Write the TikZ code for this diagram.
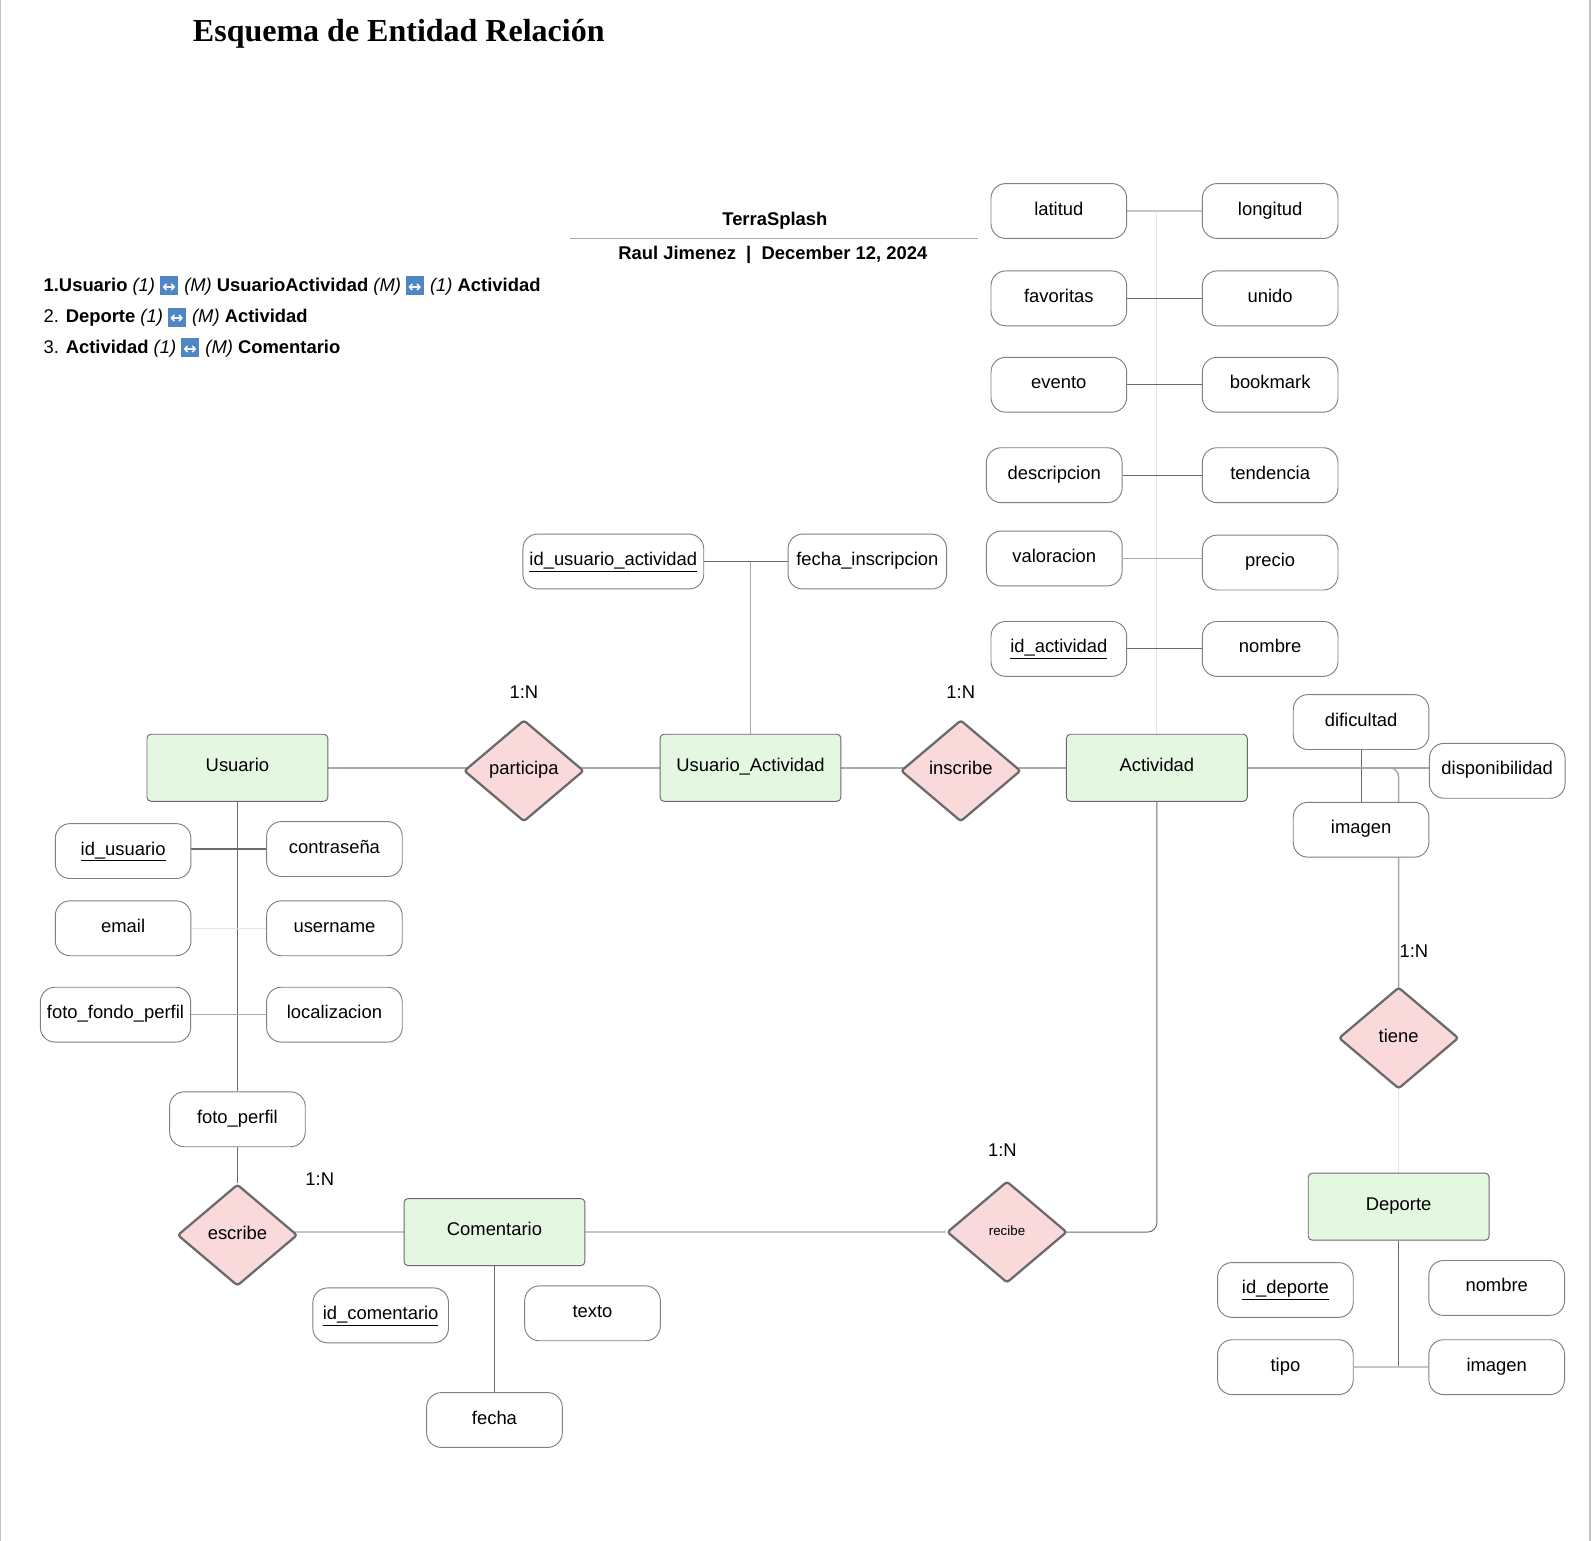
\documentclass[tikz,border=0pt]{standalone}
\usepackage{fontspec}
\setmainfont{Liberation Sans}
\newfontfamily\serifbold{Liberation Serif}
\newfontfamily\dejavu{DejaVu Sans}
\usetikzlibrary{shapes.geometric,backgrounds}
\definecolor{entfill}{HTML}{E3F7E1}
\definecolor{relfill}{HTML}{F9D9D9}
\definecolor{icoblue}{HTML}{4F86C6}
\definecolor{darkline}{HTML}{6A6A6A}
\definecolor{midline}{HTML}{A8A8A8}
\definecolor{softline}{HTML}{C6C6C6}
\definecolor{faintline}{HTML}{E6E6E6}
\definecolor{frameline}{HTML}{C4C4C4}
\newcommand{\ico}{\raisebox{-2.2pt}{\setlength{\fboxsep}{0pt}\colorbox{icoblue}{\makebox[13.2pt]{\rule[-1pt]{0pt}{14.5pt}\raisebox{1.2pt}{\textcolor{white}{\dejavu\bfseries\fontsize{12pt}{12pt}\selectfont ↔}}}}}\hspace{1pt}}
\tikzset{
  base/.style={font=\fontsize{13.8pt}{16pt}\selectfont,text height=10pt,text depth=4pt,inner sep=0pt},
  attr/.style={base,draw=darkline!85,line width=0.7pt,rounded corners=11pt,minimum width=133.5*0.762pt,minimum height=54*0.762pt,fill=white},
  ent/.style={base,text depth=5pt,draw=darkline,line width=0.7pt,rounded corners=3pt,fill=entfill,minimum width=178*0.762pt,minimum height=66*0.762pt},
  rel/.style={base,diamond,aspect=1.18,draw=darkline,line width=1.7pt,fill=relfill,rounded corners=2pt,minimum width=118*0.762pt,minimum height=100*0.762pt},
  card/.style={base},
  plain/.style={font=\fontsize{13.8pt}{16pt}\selectfont,inner sep=0pt},
  dk/.style={draw=darkline,line width=0.7pt},
  md/.style={draw=midline,line width=1.1pt},
  sf/.style={draw=softline,line width=1.1pt},
  fa/.style={draw=faintline,line width=0.8pt},
}
\begin{document}
\begin{tikzpicture}[x=0.762pt,y=-0.762pt]
\useasboundingbox (0.3,0.3) rectangle (1567.3,1516.3);
\node[anchor=west,inner sep=0pt,font=\serifbold\bfseries\fontsize{24pt}{28pt}\selectfont] (title) at (190,33.5) {Esquema de Entidad Relación};
\node[plain,font=\bfseries\fontsize{13.8pt}{16pt}\selectfont] (tsp) at (763,218) {TerraSplash};
\node[plain,font=\bfseries\fontsize{13.8pt}{16pt}\selectfont] (raul) at (761,251) {Raul Jimenez~~|~~December 12, 2024};
\coordinate (hl) at (561,235); \coordinate (hr) at (963,235);
\node[plain,anchor=west] (l1) at (43,281.5) {\textbf{1.Usuario} \textit{(1)} \ico{} \textit{(M)} \textbf{UsuarioActividad} \textit{(M)} \ico{} \textit{(1)} \textbf{Actividad}};
\node[plain,anchor=west] (l2) at (43,312.5) {2. \textbf{Deporte} \textit{(1)} \ico{} \textit{(M)} \textbf{Actividad}};
\node[plain,anchor=west] (l3) at (43,342.5) {3. \textbf{Actividad} \textit{(1)} \ico{} \textit{(M)} \textbf{Comentario}};
% attributes
\node[attr] (latitud) at (1042.5,208) {latitud};
\node[attr] (longitud) at (1250.5,208) {longitud};
\node[attr] (favoritas) at (1042.5,294) {favoritas};
\node[attr] (unido) at (1250.5,294) {unido};
\node[attr] (evento) at (1042.5,379) {evento};
\node[attr] (bookmark) at (1250.5,379) {bookmark};
\node[attr] (descripcion) at (1038,468) {descripcion};
\node[attr] (tendencia) at (1250.5,468) {tendencia};
\node[attr] (valoracion) at (1038,550) {valoracion};
\node[attr] (precio) at (1250.5,554) {precio};
\node[attr] (idact) at (1042.5,639) {\underline{id\_actividad}};
\node[attr] (nombreact) at (1250.5,639) {nombre};
\node[attr,minimum width=178*0.762pt] (idua) at (604,553) {\underline{id\_usuario\_actividad}};
\node[attr,minimum width=156*0.762pt] (fecins) at (854,553) {fecha\_inscripcion};
\node[attr] (dificultad) at (1340,711) {dificultad};
\node[attr] (dispon) at (1474,759) {disponibilidad};
\node[attr] (imagenact) at (1340,817) {imagen};
\node[attr] (idus) at (121.5,838) {\underline{id\_usuario}};
\node[attr] (contra) at (329.5,836) {contraseña};
\node[attr] (email) at (121.5,914) {email};
\node[attr] (username) at (329.5,914) {username};
\node[attr,minimum width=148*0.762pt] (fotofondo) at (114,999) {foto\_fondo\_perfil};
\node[attr] (localiz) at (329.5,999) {localizacion};
\node[attr] (fotoperfil) at (234,1102) {foto\_perfil};
\node[attr] (idcom) at (375,1295) {\underline{id\_comentario}};
\node[attr] (texto) at (583.5,1293) {texto};
\node[attr] (fecha) at (487,1398) {fecha};
\node[attr] (iddep) at (1265.5,1270) {\underline{id\_deporte}};
\node[attr] (nombredep) at (1473.5,1268) {nombre};
\node[attr] (tipo) at (1265.5,1346) {tipo};
\node[attr] (imagendep) at (1473.5,1346) {imagen};
% entities
\node[ent] (usuario) at (234,756) {Usuario};
\node[ent] (ua) at (739,756) {Usuario\_Actividad};
\node[ent] (actividad) at (1139,756) {Actividad};
\node[ent] (comentario) at (487,1213) {Comentario};
\node[ent] (deporte) at (1377,1188) {Deporte};
% relations
\node[rel] (participa) at (516,759) {participa};
\node[rel] (inscribe) at (946,759) {inscribe};
\node[rel] (tiene) at (1377,1022) {tiene};
\node[rel] (escribe) at (234,1216) {escribe};
\node[rel,font=\fontsize{10pt}{12pt}\selectfont,text depth=5pt] (recibe) at (991.5,1213) {recibe};
% cardinalities
\node[card] (c1) at (516,684) {1:N};
\node[card] (c2) at (946,684) {1:N};
\node[card] (c3) at (1392,939) {1:N};
\node[card] (c4) at (987,1135) {1:N};
\node[card] (c5) at (315,1163) {1:N};
\coordinate (uaj) at (739,553);
\coordinate (latj) at (1139,208);
\coordinate (depj) at (1377,1346);
\begin{scope}[on background layer]
\fill[white] (0,0) rectangle (1568,1517);
\draw[frameline,line width=1.2pt] (0.6,0) -- (0.6,1517);
\draw[frameline,line width=1.2pt] (1565.5,0) -- (1565.5,1517);
\draw[md] (hl) -- (hr);
\draw[sf] (latitud) -- (longitud);
\draw[fa] (latj) -- (actividad.north);
\draw[dk] (favoritas) -- (unido);
\draw[dk] (evento) -- (bookmark);
\draw[dk] (descripcion) -- (tendencia);
\draw[md] (valoracion.east) -- (valoracion.east -| precio.west);
\draw[dk] (idact) -- (nombreact);
\draw[dk] (idua) -- (fecins);
\draw[md] (uaj) -- (ua.north);
\draw[md] (usuario.east) -- (participa.center |- usuario.east);
\draw[md] (participa.center |- ua.west) -- (ua.west);
\draw[md] (ua.east) -- (inscribe.center |- ua.east);
\draw[md] (inscribe.center |- actividad.west) -- (actividad.west);
\draw[md] (actividad.east) -- (dispon.west |- actividad.east);
\draw[dk] (dificultad) -- (imagenact);
\draw[md,rounded corners=7pt] (actividad.east) -- (tiene.center |- actividad.east) -- (tiene.center);
\draw[fa] (tiene.center) -- (deporte.north);
\draw[dk] (deporte.south) -- (depj);
\draw[sf] (tipo) -- (imagendep);
\draw[dk,rounded corners=7pt] (actividad.south) -- (actividad.south |- recibe.center) -- (recibe.center);
\draw[sf] (recibe) -- (comentario);
\draw[sf] (escribe.center |- comentario.west) -- (comentario.west);
\draw[dk] (comentario.south -| fecha.north) -- (fecha.north);
\draw[dk] (fotoperfil) -- (escribe);
\draw[dk] (usuario) -- (fotoperfil);
\draw[dk,line width=0.9pt] (idus.east |- contra.west) -- (contra.west);
\draw[fa] (email) -- (username);
\draw[md] (fotofondo) -- (localiz);
\end{scope}
\end{tikzpicture}
\end{document}
